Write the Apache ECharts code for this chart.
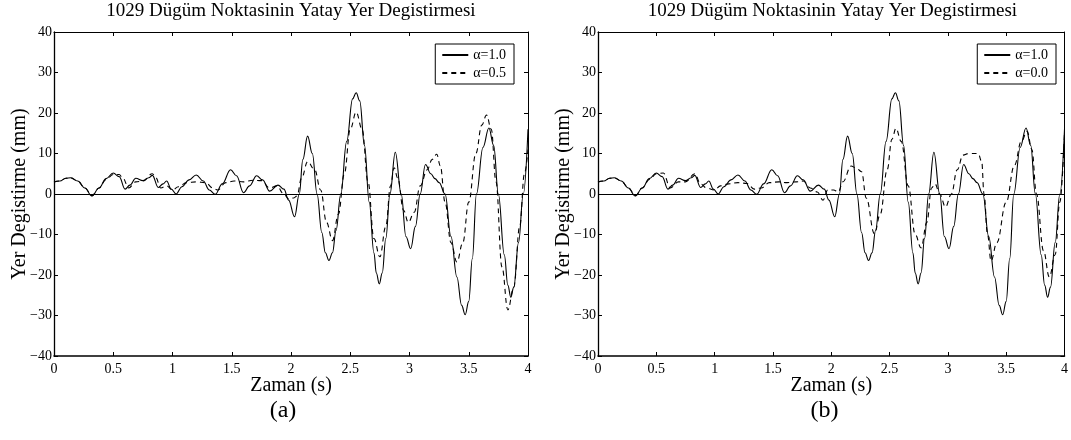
<!DOCTYPE html>
<html>
<head>
<meta charset="utf-8">
<script src="https://cdn.jsdelivr.net/npm/echarts@6/dist/echarts.min.js"></script>
<style>
html,body{margin:0;padding:0;background:#fff;}
#chart{width:1071px;height:440px;}
</style>
</head>
<body>
<div id="chart"></div>
<script>
// ---- data ----
var chartTitle = '1029 Dügüm Noktasinin Yatay Yer Degistirmesi';
var xName = 'Zaman (s)';
var yName = 'Yer Degistirme (mm)';
var panelLabels = ['(a)', '(b)'];
var xTicks = [0, 0.5, 1, 1.5, 2, 2.5, 3, 3.5, 4];
var yTicks = [-40, -30, -20, -10, 0, 10, 20, 30, 40];

// alpha = 1.0 (solid, same in both panels)
var tSolid = [0.00,0.05,0.10,0.14,0.20,0.26,0.32,0.38,0.44,0.50,0.55,0.60,0.64,0.69,0.75,0.80,0.83,0.88,0.92,0.95,0.99,1.03,1.08,1.14,1.20,1.26,1.31,1.36,1.42,1.49,1.54,1.60,1.65,1.71,1.76,1.82,1.89,1.94,1.98,2.03,2.07,2.10,2.14,2.18,2.22,2.26,2.29,2.32,2.35,2.38,2.42,2.47,2.52,2.55,2.58,2.62,2.66,2.70,2.72,2.745,2.77,2.80,2.835,2.88,2.93,2.97,3.01,3.05,3.09,3.135,3.18,3.215,3.25,3.30,3.35,3.40,3.44,3.47,3.50,3.53,3.565,3.62,3.67,3.71,3.75,3.80,3.83,3.855,3.88,3.92,3.96,4.00];
var vSolid = [3.0,3.2,3.9,4.0,3.2,1.5,-0.5,1.5,3.8,5.2,4.3,1.2,2.2,3.9,3.3,4.0,4.6,1.6,2.5,3.2,1.2,0.0,1.8,3.5,4.7,3.2,1.0,-0.1,2.5,6.0,4.5,0.3,2.0,4.5,3.5,0.7,2.2,1.2,-1.5,-5.6,0.0,8.5,14.3,10.0,0.0,-9.5,-14.5,-16.4,-14.5,-9.0,0.0,13.0,23.5,25.0,23.0,12.0,-2.0,-14.5,-19.5,-22.2,-19.5,-11.0,0.0,10.3,0.0,-10.5,-13.5,-8.0,0.0,7.3,5.0,3.8,2.8,0.0,-10.5,-20.5,-27.5,-29.8,-26.5,-16.0,0.0,11.5,16.3,12.0,0.0,-15.0,-22.5,-25.5,-23.0,-12.0,0.0,16.0];

// alpha = 0.5 (dashed, panel a)
var tA05 = [0.00,0.05,0.10,0.14,0.20,0.26,0.32,0.38,0.44,0.50,0.55,0.58,0.63,0.69,0.75,0.83,0.86,0.90,0.95,1.00,1.05,1.12,1.20,1.28,1.34,1.38,1.45,1.52,1.60,1.68,1.75,1.82,1.88,1.94,1.98,2.02,2.05,2.09,2.14,2.20,2.25,2.30,2.35,2.40,2.45,2.50,2.55,2.60,2.65,2.70,2.75,2.80,2.84,2.87,2.90,2.95,2.99,3.04,3.09,3.15,3.19,3.23,3.26,3.30,3.35,3.40,3.45,3.50,3.56,3.61,3.65,3.69,3.73,3.78,3.83,3.88,3.93,3.97,4.00];
var vA05 = [3.0,3.2,3.9,4.0,3.2,1.5,-0.4,1.5,3.6,4.8,4.8,4.0,1.5,3.0,3.2,5.0,4.0,1.5,2.0,1.0,1.8,2.8,3.0,2.8,1.5,1.0,2.8,3.2,3.0,3.4,3.3,1.5,2.0,0.0,-1.2,-1.0,-0.5,4.0,8.0,6.0,1.0,-7.0,-11.5,-5.0,5.0,16.0,20.2,16.0,3.0,-11.0,-15.5,-8.0,2.0,6.5,4.0,-4.0,-7.0,-4.5,2.0,6.0,8.5,9.8,7.0,-2.0,-12.0,-16.8,-12.0,-2.0,10.0,17.0,19.5,16.0,3.0,-18.0,-28.6,-23.0,-8.0,5.0,11.0];

// alpha = 0.0 (dashed, panel b)
var tA00 = [0.00,0.05,0.10,0.14,0.20,0.26,0.32,0.38,0.44,0.50,0.56,0.62,0.69,0.75,0.83,0.88,0.93,1.00,1.05,1.12,1.20,1.28,1.34,1.40,1.47,1.55,1.62,1.70,1.76,1.82,1.88,1.93,1.97,2.02,2.06,2.10,2.17,2.21,2.26,2.30,2.37,2.42,2.48,2.52,2.555,2.60,2.66,2.72,2.77,2.82,2.86,2.89,2.93,2.98,3.03,3.08,3.13,3.18,3.26,3.29,3.31,3.34,3.37,3.42,3.50,3.57,3.63,3.68,3.72,3.76,3.82,3.87,3.92,3.96,4.00];
var vA00 = [3.0,3.2,3.9,4.0,3.2,1.5,-0.4,1.5,3.6,5.0,5.2,1.5,3.0,3.0,5.0,2.5,1.5,1.0,2.0,2.5,2.8,2.6,1.2,1.5,2.8,3.0,2.8,3.0,3.2,1.5,0.5,-1.5,1.0,1.0,0.5,3.0,6.9,6.5,5.5,-1.0,-9.8,-5.0,6.0,13.5,16.2,13.0,2.0,-10.0,-13.3,-7.0,1.5,2.5,0.0,-3.2,0.0,6.0,9.6,10.0,10.0,8.0,0.0,-10.0,-16.5,-12.0,-2.0,7.0,13.0,15.5,11.0,0.0,-14.0,-20.5,-15.0,-2.0,15.0];

var nameSolid = 'α=1.0';
var nameA05 = 'α=0.5';
var nameA00 = 'α=0.0';

// ---- build ----
function pairs(t, v) { return t.map(function (x, i) { return [x, v[i]]; }); }
var FONT = '"Liberation Serif", "Times New Roman", serif';
var grids = [
  { left: 54, top: 32, width: 474, height: 324 },
  { left: 598, top: 32, width: 469, height: 324 }
];
function fmtY(v) { return String(v).replace('-', '\u2212'); }

var xAxes = [], yAxes = [];
grids.forEach(function (g, i) {
  xAxes.push({
    type: 'value', gridIndex: i, min: xTicks[0], max: xTicks[xTicks.length - 1], interval: 0.5,
    position: 'bottom',
    name: xName, nameLocation: 'middle', nameGap: 20, nameMoveOverlap: false,
    nameTextStyle: { fontFamily: FONT, fontSize: 20, color: '#000' },
    axisLine: { show: true, onZero: false, lineStyle: { color: '#000', width: 1.6 } },
    axisTick: { show: true, inside: true, length: 4, lineStyle: { color: '#000' } },
    axisLabel: { fontFamily: FONT, fontSize: 14, color: '#000', margin: 6 },
    splitLine: { show: false }
  });
  xAxes.push({
    type: 'value', gridIndex: i, min: xTicks[0], max: xTicks[xTicks.length - 1], interval: 0.5,
    position: 'top',
    axisLine: { show: true, onZero: false, lineStyle: { color: '#000', width: 1 } },
    axisTick: { show: true, inside: true, length: 4, lineStyle: { color: '#000' } },
    axisLabel: { show: false }, splitLine: { show: false }
  });
  yAxes.push({
    type: 'value', gridIndex: i, min: yTicks[0], max: yTicks[yTicks.length - 1], interval: 10,
    position: 'left',
    name: yName, nameLocation: 'middle', nameGap: 24, nameRotate: 90, nameMoveOverlap: false,
    nameTextStyle: { fontFamily: FONT, fontSize: 20, color: '#000' },
    axisLine: { show: true, onZero: false, lineStyle: { color: '#000', width: 1.3 } },
    axisTick: { show: true, inside: true, length: 4, lineStyle: { color: '#000' } },
    axisLabel: { fontFamily: FONT, fontSize: 14, color: '#000', margin: 2, formatter: fmtY },
    splitLine: { show: false }
  });
  yAxes.push({
    type: 'value', gridIndex: i, min: yTicks[0], max: yTicks[yTicks.length - 1], interval: 10,
    position: 'right',
    axisLine: { show: true, onZero: false, lineStyle: { color: '#000', width: 1 } },
    axisTick: { show: true, inside: true, length: 4, lineStyle: { color: '#000' } },
    axisLabel: { show: false }, splitLine: { show: false }
  });
});

function lineSeries(name, t, v, gi, dashed, zero) {
  var s = {
    name: name, type: 'line', xAxisIndex: gi * 2, yAxisIndex: gi * 2,
    data: pairs(t, v), showSymbol: false, symbol: 'none', smooth: 0.4, smoothMonotone: 'x',
    animation: false, z: dashed ? 3 : 4,
    lineStyle: { color: '#000', width: 1.1, type: dashed ? [5, 4] : 'solid' },
    itemStyle: { color: '#000' }
  };
  if (zero) {
    s.markLine = {
      silent: true, symbol: ['none', 'none'], animation: false,
      label: { show: false },
      lineStyle: { color: '#000', width: 1, type: 'solid' },
      data: [{ yAxis: 0 }]
    };
  }
  return s;
}

var series = [
  lineSeries(nameA05, tA05, vA05, 0, true, false),
  lineSeries(nameSolid, tSolid, vSolid, 0, false, true),
  lineSeries(nameA00, tA00, vA00, 1, true, false),
  lineSeries(nameSolid, tSolid, vSolid, 1, false, true)
];

function legendFor(names, right) {
  return {
    data: names, orient: 'vertical', right: right, top: 44,
    backgroundColor: '#fff', borderColor: '#000', borderWidth: 1, borderRadius: 0,
    padding: [4, 8, 4, 6], itemWidth: 26, itemHeight: 12, itemGap: 4,
    selectedMode: false,
    itemStyle: { color: 'rgba(0,0,0,0)', borderColor: 'rgba(0,0,0,0)', borderWidth: 0 },
    lineStyle: { inherit: true },
    textStyle: { fontFamily: FONT, fontSize: 14, color: '#000' }
  };
}

var graphics = [];
grids.forEach(function (g, i) {
  var cx = g.left + g.width / 2;
  graphics.push({ type: 'text', x: cx, y: 11, style: { text: chartTitle, textAlign: 'center', textVerticalAlign: 'middle', font: '19px ' + FONT, fill: '#000' } });
  graphics.push({ type: 'text', x: cx - 8, y: 411, style: { text: panelLabels[i], textAlign: 'center', textVerticalAlign: 'middle', font: '24px ' + FONT, fill: '#000' } });
});

var chart = echarts.init(document.getElementById('chart'), null, { renderer: 'canvas' });
chart.setOption({
  animation: false,
  backgroundColor: '#fff',
  grid: grids,
  xAxis: xAxes,
  yAxis: yAxes,
  legend: [legendFor([nameSolid, nameA05], 1071 - 514), legendFor([nameSolid, nameA00], 1071 - 1056)],
  series: series,
  graphic: graphics
});
</script>
</body>
</html>
